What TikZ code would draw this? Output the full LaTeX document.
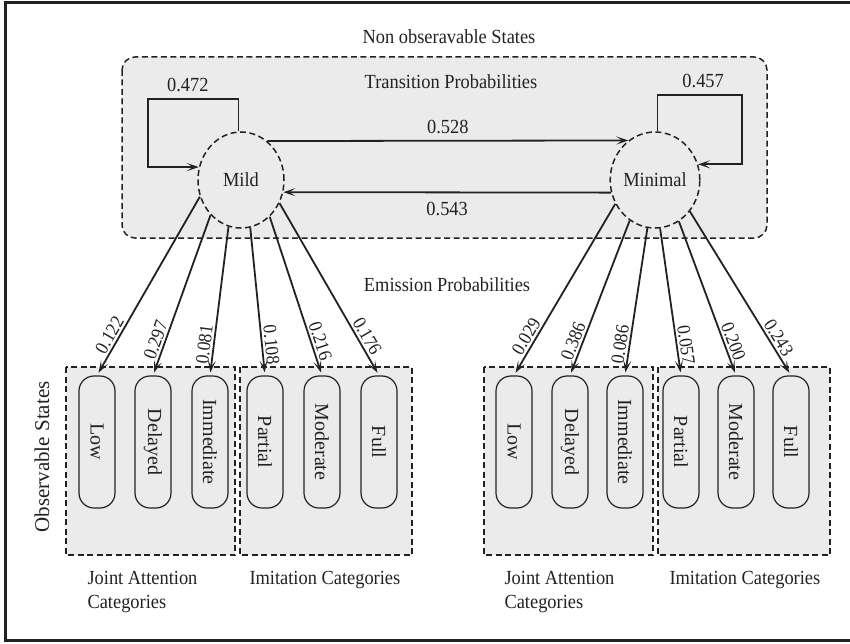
\documentclass[tikz,border=0pt]{standalone}
\usepackage{fontspec}
\setmainfont[FakeStretch=0.92]{Liberation Serif}
\newfontfamily\vfont{Liberation Serif}
\usetikzlibrary{shapes.geometric,arrows.meta}
\definecolor{panel}{HTML}{EBEBEB}
\definecolor{ink}{HTML}{222222}
\begin{document}
\begin{tikzpicture}[x=1pt,y=-1pt,
  every node/.style={font=\fontsize{20}{24}\selectfont, text=ink},
  dbox/.style={draw=ink, fill=panel, dash pattern=on 6pt off 3.5pt, line width=1.5pt},
  hstate/.style={ellipse, draw=ink, fill=panel, dash pattern=on 6pt off 3.5pt, line width=1.5pt, minimum width=86pt, minimum height=96pt, inner sep=0pt},
  pill/.style={draw=ink, fill=panel, rounded corners=15pt, line width=1.2pt, minimum width=36pt, minimum height=132pt, inner sep=0pt, font=\vfont\fontsize{20}{24}\selectfont},
  arr/.style={draw=ink, line width=1.8pt, -{Stealth[length=12pt,width=8pt,inset=6pt]}},
  earr/.style={arr, shorten >=3pt},
  plab/.style={font=\fontsize{19}{22}\selectfont, inner sep=2pt},
]
\useasboundingbox (0,0) rectangle (850,644);
% outer frame
\draw[line width=3pt, ink] (856,3) -- (5,3) -- (5,640) -- (856,640);

% non observable panel
\draw[dbox, rounded corners=13pt] (122,57) rectangle (767,238);
\node (title) at (449,37) {Non obseravable States};
\node (trans) at (451,82) {Transition Probabilities};

\node[hstate] (mild) at (241,180) {Mild};
\node[hstate] (minimal) at (655,180) {Minimal};

\coordinate (l1) at (148,99);
\draw[arr] (mild.93) |- (l1) node[pos=0.78, above=3pt] {0.472} |- (mild.163);
\coordinate (r1) at (742,95);
\draw[arr] (minimal.87) |- (r1) node[pos=0.77, above=3pt] {0.457} |- (minimal.20);

\draw[arr] (mild.56) -- (minimal.124) node[midway, above=3pt] {0.528};
\draw[arr] (minimal.196) -- (mild.344) node[midway, below=6pt] {0.543};

\node (emis) at (447,285) {Emission Probabilities};

% observable boxes
\draw[dbox] (66,367) rectangle (235,555);
\draw[dbox] (240,367) rectangle (412,555);
\draw[dbox] (484,367) rectangle (653,555);
\draw[dbox] (658,367) rectangle (830,555);

\node[font=\vfont\fontsize{21}{24}\selectfont, rotate=90] (obs) at (42,457) {Observable States};

% pills (Mild)
\node[pill] (a1) at (97,442) {\rotatebox{-90}{Low}};
\node[pill] (a2) at (153,442) {\rotatebox{-90}{Delayed}};
\node[pill] (a3) at (210,442) {\rotatebox{-90}{Immediate}};
\node[pill] (a4) at (265,442) {\rotatebox{-90}{Partial}};
\node[pill] (a5) at (322,442) {\rotatebox{-90}{Moderate}};
\node[pill] (a6) at (379,442) {\rotatebox{-90}{Full}};
% pills (Minimal)
\node[pill] (b1) at (514,442) {\rotatebox{-90}{Low}};
\node[pill] (b2) at (570,442) {\rotatebox{-90}{Delayed}};
\node[pill] (b3) at (625,442) {\rotatebox{-90}{Immediate}};
\node[pill] (b4) at (681,442) {\rotatebox{-90}{Partial}};
\node[pill] (b5) at (736,442) {\rotatebox{-90}{Moderate}};
\node[pill] (b6) at (791,442) {\rotatebox{-90}{Full}};

% emission arrows
\draw[earr] (mild.202) -- (a1.north) node[plab, pos=0.8, sloped, above] {0.122};
\draw[earr] (mild.229) -- (a2.north) node[plab, pos=0.8, sloped, above] {0.297};
\draw[earr] (mild.255) -- (a3.north) node[plab, pos=0.8, sloped, above] {0.081};
\draw[earr] (mild.281) -- (a4.north) node[plab, pos=0.8, sloped, above] {0.108};
\draw[earr] (mild.308) -- (a5.north) node[plab, pos=0.8, sloped, above] {0.216};
\draw[earr] (mild.329) -- (a6.north) node[plab, pos=0.8, sloped, above] {0.176};

\draw[earr] (minimal.211) -- (b1.north) node[plab, pos=0.8, sloped, above] {0.029};
\draw[earr] (minimal.238) -- (b2.north) node[plab, pos=0.8, sloped, above] {0.386};
\draw[earr] (minimal.261) -- (b3.north) node[plab, pos=0.8, sloped, above] {0.086};
\draw[earr] (minimal.276) -- (b4.north) node[plab, pos=0.8, sloped, above] {0.057};
\draw[earr] (minimal.300) -- (b5.north) node[plab, pos=0.8, sloped, above] {0.200};
\draw[earr] (minimal.318) -- (b6.north) node[plab, pos=0.8, sloped, above] {0.243};

% bottom captions
\node[anchor=west, align=left] (ja1) at (84,592) {Joint Attention\\Categories};
\node[anchor=west] (ic1) at (246,580) {Imitation Categories};
\node[anchor=west, align=left] (ja2) at (501,592) {Joint Attention\\Categories};
\node[anchor=west] (ic2) at (666,580) {Imitation Categories};
\end{tikzpicture}
\end{document}
